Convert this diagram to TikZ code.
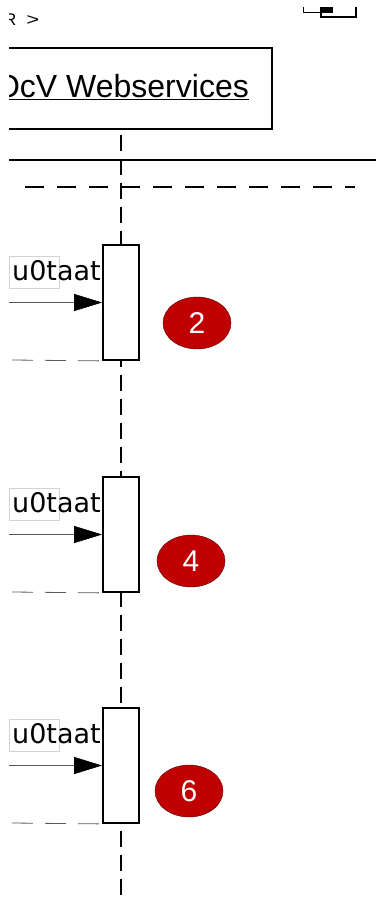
\documentclass[tikz,border=0pt]{standalone}
\usepackage{fontspec}
\setmainfont{Liberation Sans}
\newfontfamily\msgfont{DejaVu Sans}
\usetikzlibrary{arrows.meta,shapes.geometric}
\definecolor{stepred}{HTML}{C00000}
\definecolor{stepedge}{HTML}{5A0000}

\begin{document}
\begin{tikzpicture}[
                x=1pt,y=-1pt,
                lifeline/.style={draw,line width=1.5pt,dash pattern=on 16pt off 8pt},
                actbox/.style={draw,line width=1.8pt,fill=white,inner sep=0pt,
                               minimum width=36pt,minimum height=115pt},
                stepmark/.style={ellipse,draw=stepedge,fill=stepred,text=white,
                                 minimum width=68pt,minimum height=52pt,
                                 font=\fontsize{30}{30}\selectfont},
                msg/.style={draw=gray!70!black,line width=0.8pt,
                            -{Triangle[length=28pt,width=17pt,color=black]}},
                retmsg/.style={draw=gray!70!black,line width=0.8pt,dash pattern=on 21pt off 12pt},
                msglabel/.style={inner sep=0pt,anchor=base west,
                                 font=\msgfont\fontsize{27}{27}\selectfont}
            ]
                \useasboundingbox (0,0) rectangle (376,899);
                \clip (9,0) rectangle (376,899);
                % heading
                \node (kind) [anchor=base west,inner sep=0pt,font=\fontsize{17}{17}\selectfont]
                    at (4,26) {R\hspace{10pt}\scalebox{1.3}[1]{>}};
                \draw[line width=1pt] (303,7) -- (303,13) -- (330,13);
                \fill (320,7) rectangle (333,13);
                \draw[line width=2.5pt] (321,7) -- (321,17) -- (356,17) -- (356,7);
                % object box
                \draw[line width=1.5pt] (-5,48) rectangle (272,129);
                \node (obj) [anchor=base east,inner sep=0pt,font=\fontsize{32}{34}\selectfont]
                    at (249,97) {\underline{OcV Webservices}};
                % separators
                \coordinate (sepL) at (9,160);
                \coordinate (sepR) at (376,160);
                \draw[line width=1.5pt] (sepL) -- (sepR);
                \coordinate (dashL) at (25,187);
                \coordinate (dashR) at (355,187);
                \draw[line width=2pt,dash pattern=on 19pt off 13pt] (dashL) -- (dashR);
                % lifeline
                \coordinate (ltop) at (121,135);
                \coordinate (lbot) at (121,899);
                \draw[lifeline] (ltop) -- (lbot);
                % calls
                \foreach \n/\y/\ex/\ey in {2/302.5/197/323, 4/534.5/191/561, 6/765.5/189/791}{
                    \node (act\n) [actbox] at (121,\y) {};
                    \coordinate (in\n) at (9,\y);
                    \coordinate (back\n) at (12,\y+57.5);
                    \draw[msg] (in\n) -- (act\n.west);
                    \draw[retmsg] (back\n) -- (act\n.south west);
                    \draw[gray!35,line width=0.8pt] (9,\y-46) rectangle (59,\y-14);
                    \node (lab\n) [msglabel] at (12,\y-22) {u0taat};
                    \node (step\n) [stepmark] at (\ex,\ey) {\n};
                }
            \end{tikzpicture}
\end{document}
